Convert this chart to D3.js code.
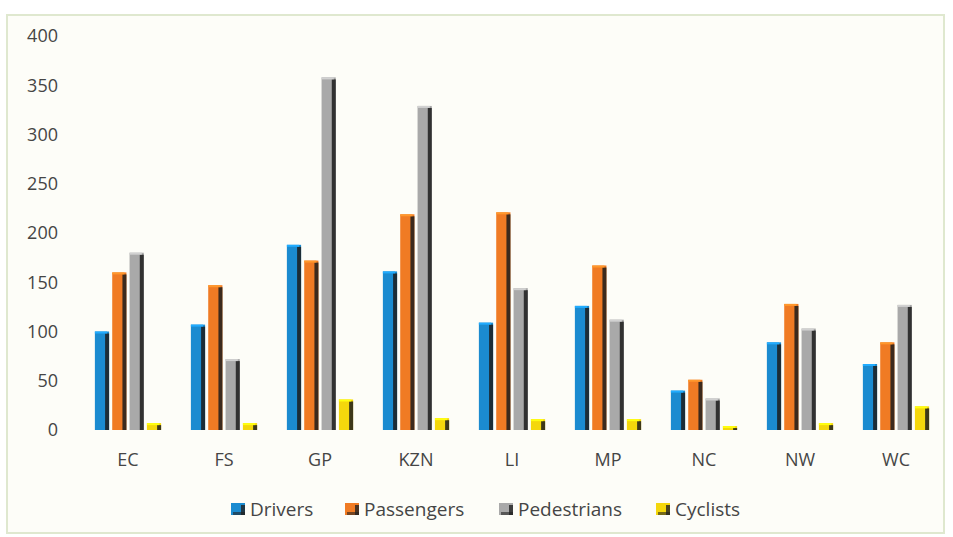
<!DOCTYPE html>
<html>
<head>
<meta charset="utf-8">
<script src="https://cdn.jsdelivr.net/npm/d3@7"></script>
<style>
  body { margin: 0; background: #ffffff; }
  svg { display: block; font-family: "Open Sans", Lato, sans-serif; }
</style>
</head>
<body>
<svg width="953" height="537"></svg>
<script>
// provinces and series
const provinces = ["EC", "FS", "GP", "KZN", "LI", "MP", "NC", "NW", "WC"];
const seriesNames = ["Drivers", "Passengers", "Pedestrians", "Cyclists"];
const drivers     = [100, 107, 188, 161, 109, 126, 40, 89, 67];
const passengers  = [160, 147, 172, 219, 221, 167, 51, 128, 89];
const pedestrians = [180, 72, 358, 329, 144, 112, 32, 103, 127];
const cyclists    = [7, 7, 31, 12, 11, 11, 4, 7, 24];
const yTicks = [0, 50, 100, 150, 200, 250, 300, 350, 400];

const colors = ["#1b8bd0", "#f07b24", "#a9a9a9", "#f4d70c"];
const values = [drivers, passengers, pedestrians, cyclists];

let svg = d3.select("svg");

// frame of the chart
svg.append("rect")
   .attr("x", 7).attr("y", 15)
   .attr("width", 937).attr("height", 518)
   .attr("fill", "#fdfdf8")
   .attr("stroke", "#dfe8cf")
   .attr("stroke-width", 2);

const area = { left: 80, right: 944, top: 36, bottom: 430 };

let scX = d3.scaleBand()
    .domain(provinces)
    .range([area.left, area.right])
    .paddingInner(0.31)
    .paddingOuter(0.155);

let scSeries = d3.scaleBand()
    .domain(seriesNames)
    .range([0, scX.bandwidth()])
    .paddingInner(0.18);

let scY = d3.scaleLinear()
    .domain([0, 400])
    .range([area.bottom, area.top]);

// y axis labels only, no lines
let axisY = d3.axisLeft(scY).tickValues(yTicks).tickSize(0).tickPadding(0);
let gY = svg.append("g")
    .attr("transform", "translate(58,0)")
    .call(axisY);
gY.select(".domain").remove();
gY.selectAll("text")
  .style("font-size", "18px")
  .style("fill", "#454545")
  .style("font-family", "'Open Sans', Lato, sans-serif");

// x axis labels
let axisX = d3.axisBottom(scX).tickSize(0).tickPadding(0);
let gX = svg.append("g")
    .attr("transform", `translate(0, ${area.bottom + 23})`)
    .call(axisX);
gX.select(".domain").remove();
gX.selectAll("text")
  .style("font-size", "18px")
  .style("fill", "#454545")
  .style("font-family", "'Open Sans', Lato, sans-serif");

// bars
seriesNames.forEach((name, i) => {
    let data = provinces.map((p, j) => ({ p: p, v: values[i][j] }));
    let g = svg.append("g").attr("class", "series");
    let bw = scSeries.bandwidth();

    // main body
    g.selectAll(".bar")
     .data(data)
     .enter()
     .append("rect")
     .attr("x", d => scX(d.p) + scSeries(name))
     .attr("y", d => scY(d.v))
     .attr("width", bw)
     .attr("height", d => scY(0) - scY(d.v))
     .attr("fill", colors[i]);

    // dark right edge (3d look)
    g.selectAll(".edge")
     .data(data)
     .enter()
     .append("rect")
     .attr("x", d => scX(d.p) + scSeries(name) + bw - 4)
     .attr("y", d => scY(d.v) + 2)
     .attr("width", 4)
     .attr("height", d => Math.max(0, scY(0) - scY(d.v) - 2))
     .attr("fill", "#1c1c1c")
     .attr("opacity", 0.85);

    // lighter top cap
    g.selectAll(".cap")
     .data(data)
     .enter()
     .append("rect")
     .attr("x", d => scX(d.p) + scSeries(name))
     .attr("y", d => scY(d.v))
     .attr("width", bw - 2)
     .attr("height", 2)
     .attr("fill", d3.color(colors[i]).brighter(0.6));
});

// legend
const legendX = [231, 345, 499, 656];
let legend = svg.append("g").attr("transform", "translate(0, 509)");
seriesNames.forEach((name, i) => {
    let item = legend.append("g").attr("transform", `translate(${legendX[i]}, 0)`);
    item.append("rect")
        .attr("x", 0).attr("y", -6)
        .attr("width", 14).attr("height", 12)
        .attr("fill", colors[i]);
    item.append("rect")
        .attr("x", 10).attr("y", -4)
        .attr("width", 4).attr("height", 10)
        .attr("fill", "#222")
        .attr("opacity", 0.8);
    item.append("rect")
        .attr("x", 2).attr("y", 3)
        .attr("width", 12).attr("height", 3)
        .attr("fill", "#222")
        .attr("opacity", 0.6);
    item.append("text")
        .attr("x", 19).attr("y", 0)
        .attr("dy", "0.35em")
        .style("font-size", "19px")
        .style("fill", "#454545")
        .text(name);
});
</script>
</body>
</html>
